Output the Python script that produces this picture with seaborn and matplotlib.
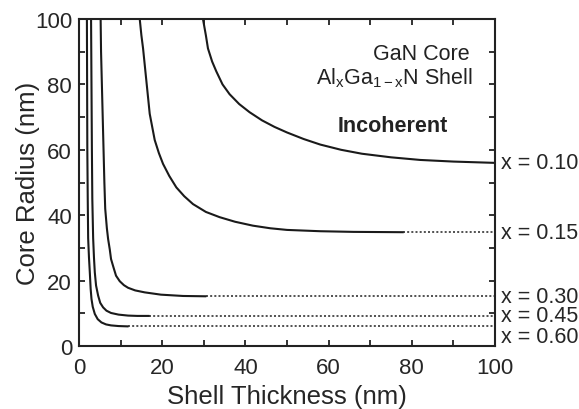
import matplotlib
matplotlib.use("Agg")
import matplotlib.pyplot as plt
import seaborn as sns
from matplotlib.ticker import MultipleLocator

# ---- data (thickness nm, radius nm) ----
t_010 = [29.8, 30.5, 31.0, 32.0, 33.0, 34.5, 36.2, 38.5, 41.0, 44.0, 47.0, 50.0,
         54.0, 58.0, 63.0, 68.0, 75.0, 82.0, 90.0, 100.0]
r_010 = [100, 95, 91, 87, 84, 80, 77, 74, 71.5, 69, 67, 65.3,
         63.3, 61.6, 60, 58.8, 57.7, 56.9, 56.4, 56.0]

t_015 = [14.6, 15.0, 15.4, 15.8, 16.2, 16.6, 17.0, 17.6, 18.2, 19.2, 20.2, 21.7,
         23.4, 25.3, 27.4, 30.5, 33.8, 37.5, 41.8, 46.0, 50.0, 58.0, 66.0, 78.0]
r_015 = [100, 95, 91, 86, 81, 76, 71, 67, 63, 59, 55.7, 52,
         48.5, 45.8, 43.4, 41, 39.4, 38, 36.8, 36.0, 35.5, 35.1, 34.9, 34.8]

t_030 = [5.2, 5.3, 5.5, 5.7, 5.9, 6.1, 6.3, 6.7, 7.0, 7.4, 7.7, 8.3, 8.9, 9.8,
         10.8, 11.8, 13.5, 15.8, 19.7, 25.0, 30.5]
r_030 = [100, 90, 80, 70, 60, 50, 42, 36, 32.7, 29.5, 26.6, 24, 21.5, 19.8,
         18.6, 17.8, 17.0, 16.4, 15.7, 15.3, 15.2]

t_045 = [2.9, 3.0, 3.1, 3.2, 3.4, 3.6, 3.8, 4.1, 4.6, 5.1, 5.8, 6.6, 7.7, 9.5,
         11.8, 14.0, 16.9]
r_045 = [100, 80, 60, 45, 33, 27, 22.5, 18.5, 15.4, 13.2, 11.8, 10.8, 10.1, 9.6,
         9.3, 9.2, 9.2]

t_060 = [1.9, 1.95, 2.0, 2.1, 2.2, 2.4, 2.6, 2.8, 3.0, 3.3, 3.8, 4.5, 5.4, 6.5,
         7.7, 9.5, 11.8]
r_060 = [100, 80, 60, 45, 33, 27, 22.5, 17.5, 14.4, 12.0, 9.8, 8.2, 7.2, 6.6,
         6.3, 6.1, 6.0]

# coherent-limit (dotted) continuation: start thickness, plateau radius
dotted_start = [None, 78.0, 30.5, 16.9, 11.8]
plateau = [56.0, 34.8, 15.2, 9.2, 6.0]

labels = ["x = 0.10", "x = 0.15", "x = 0.30", "x = 0.45", "x = 0.60"]
label_y = [56.0, 34.8, 15.2, 9.2, 2.8]

x_ticks = [0, 20, 40, 60, 80, 100]
y_ticks = [0, 20, 40, 60, 80, 100]

# ---- style ----
sns.set_style("ticks")
plt.rcParams["font.family"] = ["Liberation Sans", "DejaVu Sans"]
plt.rcParams["mathtext.fontset"] = "custom"
plt.rcParams["mathtext.rm"] = "Liberation Sans"
plt.rcParams["mathtext.it"] = "Liberation Sans:italic"

fig = plt.figure(figsize=(5.79, 4.10), dpi=100)
ax = fig.add_axes([79 / 579, 1 - 347 / 410, (495 - 79) / 579, (347 - 20) / 410])

curves = [(t_010, r_010), (t_015, r_015), (t_030, r_030), (t_045, r_045), (t_060, r_060)]
for (t, r), ds, p in zip(curves, dotted_start, plateau):
    sns.lineplot(x=t, y=r, ax=ax, color="#1a1a1a", linewidth=1.5,
                 estimator=None, sort=False)
    if ds is not None:
        sns.lineplot(x=[ds, 100], y=[p, p], ax=ax, color="#333333",
                     linewidth=1.2, linestyle=(0, (1.2, 1.3)),
                     estimator=None, sort=False)

ax.set_xlim(0, 100)
ax.set_ylim(0, 100)
ax.set_xticks(x_ticks)
ax.set_yticks(y_ticks)
ax.xaxis.set_minor_locator(MultipleLocator(10))
ax.yaxis.set_minor_locator(MultipleLocator(10))
ax.tick_params(which="both", direction="in", top=True, right=True,
               length=4, width=1.3, color="#222222")
ax.tick_params(which="major", labelsize=16, pad=5)
ax.tick_params(axis="x", which="major", pad=8)
for s in ax.spines.values():
    s.set_linewidth(1.5)
    s.set_color("#222222")

ax.set_xlabel("Shell Thickness (nm)", fontsize=18.5)
ax.set_ylabel("Core Radius (nm)", fontsize=18.5)
ax.xaxis.set_label_coords(0.5, -50 / 327)
ax.xaxis.label.set_va("center")
ax.yaxis.set_label_coords(-51 / 416, 0.5)
ax.yaxis.label.set_va("center")

for lab, ly in zip(labels, label_y):
    ax.text(101.5, ly, lab, fontsize=15.5, va="center", ha="left", clip_on=False)

ax.text(94, 89.3, "GaN Core", fontsize=15.5, ha="right", va="center", color="#222222")
ax.text(94.5, 82.3, r"Al$_\mathregular{x}$Ga$_\mathregular{1-x}$N Shell",
        fontsize=15.5, ha="right", va="center", color="#222222")
ax.text(75.5, 67.3, "Incoherent", fontsize=15.5, fontweight="bold",
        ha="center", va="center", color="#222222")

fig.savefig("out.png", dpi=100)
